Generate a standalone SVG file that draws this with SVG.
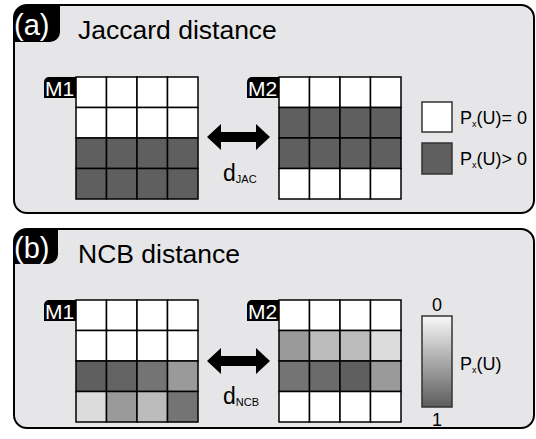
<svg xmlns="http://www.w3.org/2000/svg" width="536" height="439" viewBox="0 0 536 439">
<defs>
<style>
text{font-family:"Liberation Sans",Arial,sans-serif;}
.panel{fill:#e6e6e8;stroke:#000;stroke-width:2;}
.tab{fill:#000;}
.tabt{fill:#fff;font-size:29px;}
.title{fill:#000;font-size:26.5px;}
.cell{stroke:#000;stroke-width:1.5;}
.w{fill:#fff;}
.k{fill:#5f5f5f;}
.lab{fill:#000;}
.labt{fill:#fff;font-size:21px;}
.arrow{fill:#000;}
.dl{font-size:23px;fill:#000;}
.sub{font-size:11px;}
.lt{font-size:18px;fill:#000;}
.lsub{font-size:9px;}
.lbox{stroke:#333;stroke-width:1.5;}
</style>
<linearGradient id="grad" x1="0" y1="0" x2="0" y2="1">
<stop offset="0" stop-color="#f8f8f8"/>
<stop offset="1" stop-color="#5c5c5c"/>
</linearGradient>
</defs>

<g id="panel-a">
<rect class="panel" x="14" y="5" width="520" height="208" rx="13"/>
<path class="tab" d="M14,18 A13,13 0 0 1 27,5 L60,5 L60,32 A10,10 0 0 1 50,42 L14,42 Z"/>
<text class="tabt" x="14" y="35">(a)</text>
<text class="title" x="78" y="39">Jaccard distance</text>
</g>

<g id="a-M1">
<path class="lab" d="M44,82 A5,5 0 0 1 49,77 L76,77 L76,98 L44,98 Z"/>
<text class="labt" x="45" y="96">M1</text>
<g class="cell">
<rect class="w" x="76" y="77" width="30.5" height="30.5"/><rect class="w" x="106.5" y="77" width="30.5" height="30.5"/><rect class="w" x="137" y="77" width="30.5" height="30.5"/><rect class="w" x="167.5" y="77" width="30.5" height="30.5"/>
<rect class="w" x="76" y="107.5" width="30.5" height="30.5"/><rect class="w" x="106.5" y="107.5" width="30.5" height="30.5"/><rect class="w" x="137" y="107.5" width="30.5" height="30.5"/><rect class="w" x="167.5" y="107.5" width="30.5" height="30.5"/>
<rect class="k" x="76" y="138" width="30.5" height="30.5"/><rect class="k" x="106.5" y="138" width="30.5" height="30.5"/><rect class="k" x="137" y="138" width="30.5" height="30.5"/><rect class="k" x="167.5" y="138" width="30.5" height="30.5"/>
<rect class="k" x="76" y="168.5" width="30.5" height="30.5"/><rect class="k" x="106.5" y="168.5" width="30.5" height="30.5"/><rect class="k" x="137" y="168.5" width="30.5" height="30.5"/><rect class="k" x="167.5" y="168.5" width="30.5" height="30.5"/>
</g>
</g>

<g id="a-M2">
<path class="lab" d="M247,82 A5,5 0 0 1 252,77 L279,77 L279,98 L247,98 Z"/>
<text class="labt" x="248" y="96">M2</text>
<g class="cell">
<rect class="w" x="279" y="77" width="30.5" height="30.5"/><rect class="w" x="309.5" y="77" width="30.5" height="30.5"/><rect class="w" x="340" y="77" width="30.5" height="30.5"/><rect class="w" x="370.5" y="77" width="30.5" height="30.5"/>
<rect class="k" x="279" y="107.5" width="30.5" height="30.5"/><rect class="k" x="309.5" y="107.5" width="30.5" height="30.5"/><rect class="k" x="340" y="107.5" width="30.5" height="30.5"/><rect class="k" x="370.5" y="107.5" width="30.5" height="30.5"/>
<rect class="k" x="279" y="138" width="30.5" height="30.5"/><rect class="k" x="309.5" y="138" width="30.5" height="30.5"/><rect class="k" x="340" y="138" width="30.5" height="30.5"/><rect class="k" x="370.5" y="138" width="30.5" height="30.5"/>
<rect class="w" x="279" y="168.5" width="30.5" height="30.5"/><rect class="w" x="309.5" y="168.5" width="30.5" height="30.5"/><rect class="w" x="340" y="168.5" width="30.5" height="30.5"/><rect class="w" x="370.5" y="168.5" width="30.5" height="30.5"/>
</g>
</g>

<g id="a-legend">
<rect class="lbox w" x="422" y="102" width="30" height="30"/>
<rect class="lbox k" x="422" y="143" width="30" height="31"/>
<text class="lt" x="460" y="124">P<tspan class="lsub" dy="3">x</tspan><tspan dy="-3">(U)= 0</tspan></text>
<text class="lt" x="460" y="165">P<tspan class="lsub" dy="3">x</tspan><tspan dy="-3">(U)&gt; 0</tspan></text>
</g>

<g id="panel-b">
<rect class="panel" x="14" y="229" width="520" height="199" rx="13"/>
<path class="tab" d="M14,242 A13,13 0 0 1 27,229 L58,229 L58,254 A10,10 0 0 1 48,264 L14,264 Z"/>
<text class="tabt" x="14" y="258">(b)</text>
<text class="title" x="78" y="263">NCB distance</text>
</g>

<g id="b-M1">
<path class="lab" d="M44,305 A5,5 0 0 1 49,300 L76,300 L76,321 L44,321 Z"/>
<text class="labt" x="45" y="319">M1</text>
<g class="cell">
<rect class="w" x="76" y="300" width="30.5" height="30.5"/><rect class="w" x="106.5" y="300" width="30.5" height="30.5"/><rect class="w" x="137" y="300" width="30.5" height="30.5"/><rect class="w" x="167.5" y="300" width="30.5" height="30.5"/>
<rect class="w" x="76" y="330.5" width="30.5" height="30.5"/><rect class="w" x="106.5" y="330.5" width="30.5" height="30.5"/><rect class="w" x="137" y="330.5" width="30.5" height="30.5"/><rect class="w" x="167.5" y="330.5" width="30.5" height="30.5"/>
<rect fill="#5f5f5f" x="76" y="361" width="30.5" height="30.5"/><rect fill="#636363" x="106.5" y="361" width="30.5" height="30.5"/><rect fill="#747474" x="137" y="361" width="30.5" height="30.5"/><rect fill="#9a9a9a" x="167.5" y="361" width="30.5" height="30.5"/>
<rect fill="#dcdcdc" x="76" y="391.5" width="30.5" height="30.5"/><rect fill="#9a9a9a" x="106.5" y="391.5" width="30.5" height="30.5"/><rect fill="#bcbcbc" x="137" y="391.5" width="30.5" height="30.5"/><rect fill="#747474" x="167.5" y="391.5" width="30.5" height="30.5"/>
</g>
</g>

<g id="b-M2">
<path class="lab" d="M247,305 A5,5 0 0 1 252,300 L279,300 L279,321 L247,321 Z"/>
<text class="labt" x="248" y="319">M2</text>
<g class="cell">
<rect class="w" x="279" y="300" width="30.5" height="30.5"/><rect class="w" x="309.5" y="300" width="30.5" height="30.5"/><rect class="w" x="340" y="300" width="30.5" height="30.5"/><rect class="w" x="370.5" y="300" width="30.5" height="30.5"/>
<rect fill="#9a9a9a" x="279" y="330.5" width="30.5" height="30.5"/><rect fill="#bcbcbc" x="309.5" y="330.5" width="30.5" height="30.5"/><rect fill="#bcbcbc" x="340" y="330.5" width="30.5" height="30.5"/><rect fill="#dcdcdc" x="370.5" y="330.5" width="30.5" height="30.5"/>
<rect fill="#747474" x="279" y="361" width="30.5" height="30.5"/><rect fill="#6b6b6b" x="309.5" y="361" width="30.5" height="30.5"/><rect fill="#5f5f5f" x="340" y="361" width="30.5" height="30.5"/><rect fill="#9a9a9a" x="370.5" y="361" width="30.5" height="30.5"/>
<rect class="w" x="279" y="391.5" width="30.5" height="30.5"/><rect class="w" x="309.5" y="391.5" width="30.5" height="30.5"/><rect class="w" x="340" y="391.5" width="30.5" height="30.5"/><rect class="w" x="370.5" y="391.5" width="30.5" height="30.5"/>
</g>
</g>

<g id="b-colorbar">
<rect class="lbox" fill="url(#grad)" x="422" y="316" width="30" height="91"/>
<text class="lt" x="437" y="311" text-anchor="middle">0</text>
<text class="lt" x="437" y="426" text-anchor="middle">1</text>
<text class="lt" x="460" y="370">P<tspan class="lsub" dy="3">x</tspan><tspan dy="-3">(U)</tspan></text>
</g>

<g id="connectors">
<path class="arrow" d="M207,137 L221,124 L221,132 L256,132 L256,124 L270,137 L256,150 L256,142 L221,142 L221,150 Z"/>
<text class="dl" x="223" y="181">d<tspan class="sub" dy="2">JAC</tspan></text>
<path class="arrow" d="M207,361 L221,348 L221,356 L256,356 L256,348 L270,361 L256,374 L256,366 L221,366 L221,374 Z"/>
<text class="dl" x="223" y="404">d<tspan class="sub" dy="2">NCB</tspan></text>
</g>
</svg>
